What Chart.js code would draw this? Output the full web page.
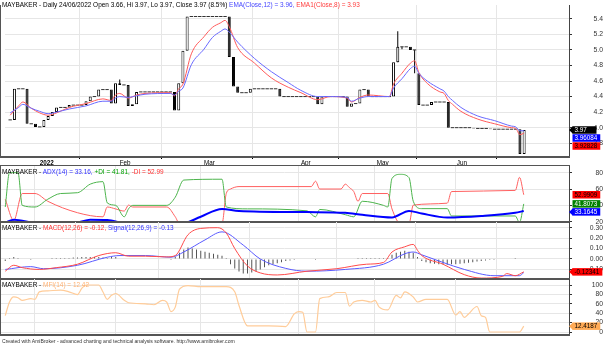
<!DOCTYPE html>
<html><head><meta charset="utf-8"><title>MAYBAKER</title>
<script src="https://cdn.jsdelivr.net/npm/chart.js@4.4.1/dist/chart.umd.min.js"></script>
<style>
html,body{margin:0;padding:0;background:#fff;overflow:hidden}
#wrap{position:relative;width:603px;height:351px;overflow:hidden;font-family:"Liberation Sans",Arial,sans-serif;background:#fff}
#wrap canvas{position:absolute;left:0}
.ttl{position:absolute;left:2px;font-size:6.45px;line-height:9px;white-space:nowrap;color:#000}
#foot{position:absolute;left:2px;top:337px;font-size:5.1px;line-height:8px;color:#333;white-space:nowrap}
</style></head>
<body><div id="wrap">
<canvas id="cPrice" width="603" height="166" style="top:0px"></canvas>
<canvas id="cAdx" width="603" height="62" style="top:166px"></canvas>
<canvas id="cMacd" width="603" height="63" style="top:222px"></canvas>
<canvas id="cMfi" width="603" height="60" style="top:279px"></canvas>
<div class="ttl" style="top:0px">MAYBAKER - Daily 24/06/2022 Open 3.66, Hi 3.97, Lo 3.97, Close 3.97 (8.5%) <span style="color:#4646ff">EMA(Close,12) = 3.96, </span><span style="color:#ff3c3c">EMA1(Close,8) = 3.93</span></div>
<div class="ttl" style="top:166.5px">MAYBAKER - <span style="color:#3232ff">ADX(14) = 33.16, </span><span style="color:#00a000">+DI = 41.81, </span><span style="color:#ff3030">-DI = 52.99</span></div>
<div class="ttl" style="top:222.5px">MAYBAKER - <span style="color:#ff3030">MACD(12,26) = -0.12, </span><span style="color:#3232ff">Signal(12,26,9) = -0.13</span></div>
<div class="ttl" style="top:279.5px">MAYBAKER - <span style="color:#ffb070">MFI(14) = 12.42</span></div>
<div id="foot">Created with AmiBroker - advanced charting and technical analysis software. http://www.amibroker.com</div>
</div>
<script>
// ---------------- data ----------------
const monthLabels = ['2022','Feb','Mar','Apr','May','Jun'];
const monthBars = [7, 26, 46, 69, 87, 106];

const opens = [4.10,4.10,4.50,4.50,4.50,4.05,4.05,4.01,4.01,4.10,
 4.15,4.20,4.26,4.26,4.26,4.29,4.29,4.29,4.29,4.34,
 4.40,4.40,4.49,4.49,4.49,4.31,4.57,4.55,4.55,4.28,
 4.30,4.46,4.46,4.46,4.46,4.46,4.46,4.46,4.46,4.46,
 4.22,4.57,4.99,5.43,5.43,5.43,5.43,5.43,5.43,5.43,
 5.43,5.43,5.43,4.91,4.53,4.45,4.45,4.45,4.50,4.50,
 4.50,4.50,4.50,4.50,4.50,4.40,4.40,4.40,4.40,4.40,
 4.40,4.40,4.40,4.40,4.30,4.40,4.40,4.40,4.40,4.40,
 4.40,4.27,4.31,4.31,4.49,4.49,4.40,4.40,4.40,4.40,
 4.40,4.40,4.84,5.04,5.04,5.04,5.00,4.70,4.29,4.29,
 4.29,4.33,4.33,4.33,4.33,4.00,4.00,4.00,4.00,4.00,
 4.00,3.99,3.99,3.99,3.99,3.98,3.98,3.98,3.98,3.98,
 3.98,3.98,3.66];
const closes = [4.10,4.50,4.50,4.50,4.05,4.05,4.01,4.01,4.10,4.15,
 4.20,4.26,4.26,4.26,4.29,4.29,4.29,4.29,4.34,4.40,
 4.40,4.49,4.49,4.49,4.31,4.57,4.55,4.55,4.28,4.30,
 4.46,4.46,4.46,4.46,4.46,4.46,4.46,4.46,4.46,4.22,
 4.57,4.99,5.43,5.43,5.43,5.43,5.43,5.43,5.43,5.43,
 5.43,5.43,4.91,4.53,4.45,4.45,4.45,4.50,4.50,4.50,
 4.50,4.50,4.50,4.50,4.40,4.40,4.40,4.40,4.40,4.40,
 4.40,4.40,4.40,4.30,4.40,4.40,4.40,4.40,4.40,4.40,
 4.27,4.31,4.31,4.49,4.49,4.40,4.40,4.40,4.40,4.40,
 4.40,4.84,5.04,5.04,5.04,5.00,5.00,4.29,4.29,4.29,
 4.33,4.33,4.33,4.33,4.00,4.00,4.00,4.00,4.00,4.00,
 3.99,3.99,3.99,3.99,3.98,3.98,3.98,3.98,3.98,3.98,
 3.98,3.66,3.97];
// [bar, low, high] for bars whose range goes beyond the body
const wicks = [[26,4.55,4.62],[92,4.84,5.24],[93,5.01,5.04],[96,4.70,5.00]];

const ema12 = [[0,4.19],[2,4.26],[3,4.30],[5,4.25],[7,4.21],[9,4.18],[11,4.20],[14,4.24],[18,4.28],[22,4.34],[24,4.34],[25,4.38],[26,4.40],[28,4.39],[30,4.41],[32,4.43],[38,4.44],[39,4.42],[40,4.47],[41,4.51],[43,4.81],[46,5.01],[48,5.16],[50,5.24],[51,5.27],[52,5.23],[54,5.10],[58,4.89],[62,4.72],[66,4.58],[69,4.48],[73,4.40],[76,4.40],[80,4.39],[81,4.34],[83,4.38],[85,4.40],[90,4.40],[91,4.51],[93,4.63],[95,4.76],[96,4.79],[97,4.70],[99,4.60],[102,4.50],[103,4.47],[104,4.40],[105,4.35],[107,4.26],[111,4.15],[115,4.09],[119,4.02],[120,4.01],[121,3.96],[122,3.96]];
const ema8 = [[0,4.16],[2,4.28],[3,4.33],[5,4.25],[7,4.19],[9,4.16],[11,4.19],[14,4.26],[18,4.31],[22,4.37],[24,4.35],[25,4.42],[26,4.44],[28,4.38],[30,4.42],[32,4.44],[38,4.45],[39,4.41],[40,4.50],[41,4.56],[43,4.95],[46,5.17],[48,5.29],[50,5.35],[51,5.38],[52,5.30],[54,5.03],[58,4.83],[62,4.64],[66,4.52],[69,4.45],[73,4.36],[76,4.40],[80,4.38],[81,4.33],[83,4.39],[85,4.42],[90,4.40],[91,4.56],[93,4.70],[95,4.83],[96,4.86],[97,4.71],[99,4.57],[102,4.46],[103,4.44],[104,4.35],[105,4.30],[107,4.21],[111,4.11],[115,4.05],[119,4.00],[120,3.99],[121,3.91],[122,3.93]];

const plusDI = [[0,38],[1,80],[3,80],[4,40],[7,38],[10,47.5],[13,54.5],[17,55.5],[20,66],[23,69],[24,43],[26,40],[28,26],[29,35.7],[30,40],[38,40],[40,50],[42,71],[51,72],[52,38],[57,35.7],[71,33.3],[73,26],[74,35],[80,28.6],[82,26],[84,45],[89,40],[90,38],[91,73],[93,78],[95,74],[96,45],[98,36],[104,36],[105,27],[120,27],[121,19],[122,41.81]];
const minusDI = [[0,47.5],[2,21.5],[4,54.5],[7,54.5],[10,45],[17,31],[23,26],[24,38],[26,35.6],[28,33],[29,40.3],[30,38],[38,38],[40,26],[41,17.6],[51,17.6],[52,54.5],[53,60],[55,63],[72,63],[73,69.6],[74,60],[79,60],[80,66],[81,61.6],[82,56.9],[83,45],[84,54.5],[90,54.5],[91,35.6],[93,17.6],[95,17.6],[96,40.3],[104,42.7],[105,56.9],[120,58.3],[121,74.3],[122,52.99]];
const adx = [[0,19],[2,22.4],[7,18.6],[12,17.5],[17,19],[20,22.4],[24,22],[28,18],[35,16.5],[41,17],[42,17.6],[46,26],[51,35.6],[55,33.2],[71,31.8],[80,30.9],[84,28.5],[91,25.2],[95,33.2],[98,30],[104,25.2],[112,27],[120,30.9],[122,33.16]];

const macd = [[0,-0.117],[2,-0.06],[4,-0.083],[8,-0.10],[12,-0.083],[17,-0.05],[22,0.033],[26,0.06],[29,0.027],[33,0.027],[38,0.02],[40,0.033],[43,0.233],[46,0.293],[50,0.30],[52,0.25],[54,0.10],[57,-0.067],[60,-0.133],[64,-0.153],[71,-0.117],[78,-0.093],[85,-0.05],[89,-0.033],[91,0.067],[94,0.117],[96,0.14],[97,0.083],[98,0.033],[103,-0.05],[108,-0.15],[112,-0.183],[117,-0.167],[118,-0.14],[120,-0.16],[122,-0.123]];
const signal = [[0,-0.1],[6,-0.073],[9,-0.093],[17,-0.06],[24,0.017],[27,0.033],[33,0.033],[39,0.017],[42,0.067],[47,0.183],[51,0.26],[56,0.133],[60,0],[66,-0.09],[71,-0.117],[80,-0.1],[89,-0.05],[94,0.05],[96,0.067],[98,0.04],[103,-0.033],[108,-0.1],[115,-0.16],[121,-0.16],[122,-0.13]];
const macdHist = [-0.02,0.01,0.02,0.01,
 0.005,-0.005,-0.01,-0.005,0.005,0.005,0.005,0.01,0.01,0.01,0.01,0.01,0.015,
 0.015,0.02,0.02,0.02,0.02,0.02,0.015,0.01,0.02,0.02,
 0.005,-0.005,-0.005,0,0.005,0.005,0.005,0.005,0,0,-0.005,-0.005,-0.01,
 0.02,0.06,0.09,0.11,0.10,0.09,0.08,0.07,0.06,0.05,0.04,0.03,0.01,
 -0.05,-0.09,-0.12,-0.14,-0.14,-0.13,-0.12,-0.10,-0.08,-0.06,
 -0.05,-0.04,-0.03,-0.02,-0.015,-0.01,-0.005,0,
 0.005,-0.005,-0.01,0,0.005,0.005,0.005,0.005,0,-0.005,0,0.005,0.01,0.01,0.01,0.01,0.01,0.01,0.01,
 0.01,0.04,0.06,0.07,0.08,0.07,0.06,0.02,
 -0.02,-0.03,-0.04,-0.045,-0.05,-0.05,-0.055,-0.05,-0.05,-0.045,-0.04,-0.035,-0.03,-0.025,-0.02,-0.015,-0.01,-0.01,-0.005,
 0,0.005,0.005,0.01,0.005,0.005];

const mfi = [[0,34.8],[1,63.8],[2,74.6],[3,73],[4,67.4],[6,71],[7,69.6],[8,85.5],[10,87.7],[13,89],[15,85.5],[17,79.7],[18,92.8],[19,100],[22,100],[23,85],[24,69.6],[25,78],[26,81.9],[28,67.4],[29,62.3],[33,60],[35,58],[37,67.4],[38,63.8],[39,43.5],[40,52.9],[41,91],[43,98.6],[46,96.4],[52,96.4],[54,85.5],[55,56.5],[57,13],[62,13],[66,11.6],[68,38.4],[69,43.5],[70,42],[71,0],[73,0],[74,71],[76,74.6],[78,84],[80,84],[81,55],[82,63.8],[84,67.4],[86,63.8],[87,67.4],[88,52.9],[90,47.1],[92,78],[93,72.5],[94,85.5],[96,74.6],[97,63.8],[99,69.6],[104,69.6],[106,36.2],[107,43.5],[108,31],[109,38.4],[111,54.3],[112,34.8],[113,31],[114,0],[121,0],[122,12.42]];

const priceTicks = [3.8,4.0,4.2,4.4,4.6,4.8,5.0,5.2,5.4];
const adxTicks = [20,40,60,80];
const macdTicks = [-0.1,0,0.1,0.2,0.3];
const mfiTicks = [0,20,40,60,80,100];

const priceBoxes = [{v:3.97,t:'3.97',bg:'#000000',fg:'#ffffff',arrow:true},{v:3.96084,t:'3.96084',bg:'#0000ff',fg:'#ffffff'},{v:3.92828,t:'3.92828',bg:'#ff0000',fg:'#000000'}];
const adxBoxes = [{v:52.9909,t:'52.9909',bg:'#ff0000',fg:'#000000'},{v:41.8073,t:'41.8073',bg:'#008000',fg:'#ffffff'},{v:33.1645,t:'33.1645',bg:'#0000ff',fg:'#ffffff',arrow:true}];
const macdBoxes = [{v:-0.12341,t:'-0.12341',bg:'#ff0000',fg:'#000000',arrow:true}];
const mfiBoxes = [{v:12.4187,t:'12.4187',bg:'#ffaa55',fg:'#000000',arrow:true}];

// ---------------- layout / style ----------------
const W = 603, AXIS_W = 34, PLOT_R = W - AXIS_W;
const BAR0 = 5.25, STEP = 4.25;
const X_MIN = -BAR0 / STEP, X_MAX = (PLOT_R - BAR0) / STEP;
const FONTF = '"Liberation Sans", Arial, sans-serif';
const TICK_SIZE = 6.8;
const GRID = '#e6e6e6';

const meas = document.createElement('canvas').getContext('2d');
function labelPad(ticks, fmt) {
  meas.font = TICK_SIZE + 'px ' + FONTF;
  const w = Math.max(...ticks.map(t => meas.measureText(fmt(t)).width));
  return Math.max(0, 599.5 - PLOT_R - 3 - w);
}
const pts = arr => arr.map(([x, y]) => ({x, y}));

const frame = {
  id: 'frame',
  afterDraw(chart, args, o) {
    const ctx = chart.ctx, a = chart.chartArea;
    ctx.save();
    ctx.fillStyle = '#555';
    ctx.fillRect(0, a.top, 1, a.bottom - a.top);
    ctx.fillRect(0, a.bottom - 1, a.right + 1, 2);
    if (o && o.strip) ctx.fillRect(0, chart.height - 1, a.right + 1, 1);
    ctx.restore();
  }
};
const valueBoxes = {
  id: 'valueBoxes',
  afterDraw(chart, args, o) {
    const items = ((o && o.items) || []).slice().sort((p, q) => q.v - p.v);
    const ys = chart.scales.y, ctx = chart.ctx;
    const h = 7.5, x0 = ys.left + 3.5;
    ctx.save();
    ctx.font = '6.3px ' + FONTF;
    ctx.textBaseline = 'middle';
    let prevBottom = -1e9;
    for (const it of items) {
      let cy = ys.getPixelForValue(it.v);
      if (cy - h / 2 < prevBottom + 0.5) cy = prevBottom + 0.5 + h / 2;
      const w = Math.max(ctx.measureText(it.t).width + 5, 24);
      ctx.fillStyle = it.bg;
      ctx.fillRect(x0, cy - h / 2, w, h);
      if (it.arrow) {
        ctx.beginPath(); ctx.moveTo(ys.left, cy); ctx.lineTo(x0 + 0.5, cy - h / 2); ctx.lineTo(x0 + 0.5, cy + h / 2); ctx.closePath(); ctx.fill();
      }
      ctx.fillStyle = it.fg;
      ctx.fillText(it.t, x0 + 2, cy + 0.5);
      prevBottom = cy + h / 2;
    }
    ctx.restore();
  }
};

function xScale(withLabels, h) {
  return {
    type: 'linear', min: X_MIN, max: X_MAX, offset: false, bounds: 'data',
    afterBuildTicks: s => { s.ticks = monthBars.map(v => ({value: v})); },
    afterFit: s => { s.height = h; s.paddingLeft = 0; s.paddingRight = 0; },
    ticks: {
      display: withLabels, callback: (v, i) => monthLabels[i], align: 'start', padding: 0,
      maxRotation: 0, autoSkip: false, color: '#000',
      font: c => ({family: FONTF, size: 6.3, weight: c.index === 0 ? 'bold' : 'normal'})
    },
    grid: {color: GRID, tickColor: '#000', tickLength: 2, drawTicks: withLabels},
    border: {display: false}
  };
}
function yScale(min, max, ticks, fmt) {
  return {
    type: 'linear', position: 'right', min, max, bounds: 'data',
    afterBuildTicks: s => { s.ticks = ticks.map(v => ({value: v})); },
    afterFit: s => { s.width = AXIS_W; s.paddingTop = 0; s.paddingBottom = 0; },
    ticks: {callback: v => fmt(v), crossAlign: 'far', padding: labelPad(ticks, fmt), color: '#333', autoSkip: false,
      font: {family: FONTF, size: TICK_SIZE}},
    grid: {color: GRID, tickColor: '#333', tickLength: 3},
    border: {display: true, color: '#444', width: 1}
  };
}
function opts(x, y, boxes, strip) {
  return {
    responsive: false, animation: false, devicePixelRatio: 1, events: [],
    layout: {padding: 0},
    plugins: {legend: {display: false}, tooltip: {enabled: false}, frame: {strip}, valueBoxes: {items: boxes}},
    scales: {x, y}
  };
}
const lineDs = (data, color, width, order) => ({type: 'line', data: pts(data), borderColor: color, borderWidth: width,
  pointRadius: 0, cubicInterpolationMode: 'monotone', order});

// ---------------- price pane ----------------
const bodyIdx = opens.map((o, i) => i).filter(i => opens[i] !== closes[i]);
const flatIdx = opens.map((o, i) => i).filter(i => opens[i] === closes[i]);
new Chart(document.getElementById('cPrice'), {
  type: 'bar',
  data: {datasets: [
    lineDs(ema12, '#6a6aff', 1, 0),
    lineDs(ema8, '#ff5a5a', 1, 0),
    {type: 'bar', data: bodyIdx.map(i => ({x: i, y: [opens[i], closes[i]]})),
      backgroundColor: c => (c.raw && c.raw.y[1] > c.raw.y[0]) ? '#ffffff' : '#000000',
      borderColor: '#000', borderWidth: 1, borderSkipped: false, barThickness: 3, grouped: false, inflateAmount: 0, order: 2},
    {type: 'line', data: flatIdx.map(i => ({x: i, y: closes[i]})), showLine: false, pointStyle: 'line',
      pointRadius: 1.7, borderColor: '#333', pointBorderColor: '#333', pointBorderWidth: 1, order: 2},
    {type: 'bar', data: wicks.map(([x, l, h]) => ({x, y: [l, h]})), backgroundColor: '#000', barThickness: 1,
      grouped: false, inflateAmount: 0, order: 3}
  ]},
  options: opts(xScale(true, 9), yScale(3.6226, 5.578, priceTicks, v => v.toFixed(1)), priceBoxes, true),
  plugins: [frame, valueBoxes]
});

// ---------------- ADX pane ----------------
new Chart(document.getElementById('cAdx'), {
  type: 'line',
  data: {datasets: [
    lineDs(adx, '#0000ff', 2, 0),
    lineDs(plusDI, '#4cb44c', 1, 1),
    lineDs(minusDI, '#ff6060', 1, 1)
  ]},
  options: opts(xScale(false, 6), yScale(19.63, 88.2, adxTicks, v => String(v)), adxBoxes, false),
  plugins: [frame, valueBoxes]
});

// ---------------- MACD pane ----------------
new Chart(document.getElementById('cMacd'), {
  type: 'bar',
  data: {datasets: [
    lineDs(macd, '#ff4a4a', 1, 0),
    lineDs(signal, '#5a5aff', 1, 0),
    {type: 'bar', data: macdHist.map((v, i) => ({x: i, y: v})), backgroundColor: '#555', barThickness: 1,
      grouped: false, inflateAmount: 0, order: 2}
  ]},
  options: opts(xScale(false, 6), yScale(-0.1917, 0.3546, macdTicks, v => v.toFixed(2)), macdBoxes, false),
  plugins: [frame, valueBoxes]
});

// ---------------- MFI pane ----------------
new Chart(document.getElementById('cMfi'), {
  type: 'line',
  data: {datasets: [lineDs(mfi, '#ffcc99', 1.2, 0)]},
  options: opts(xScale(false, 4), yScale(-6.38, 112.77, mfiTicks, v => String(v)), mfiBoxes, false),
  plugins: [frame, valueBoxes]
});
</script>
</body></html>
